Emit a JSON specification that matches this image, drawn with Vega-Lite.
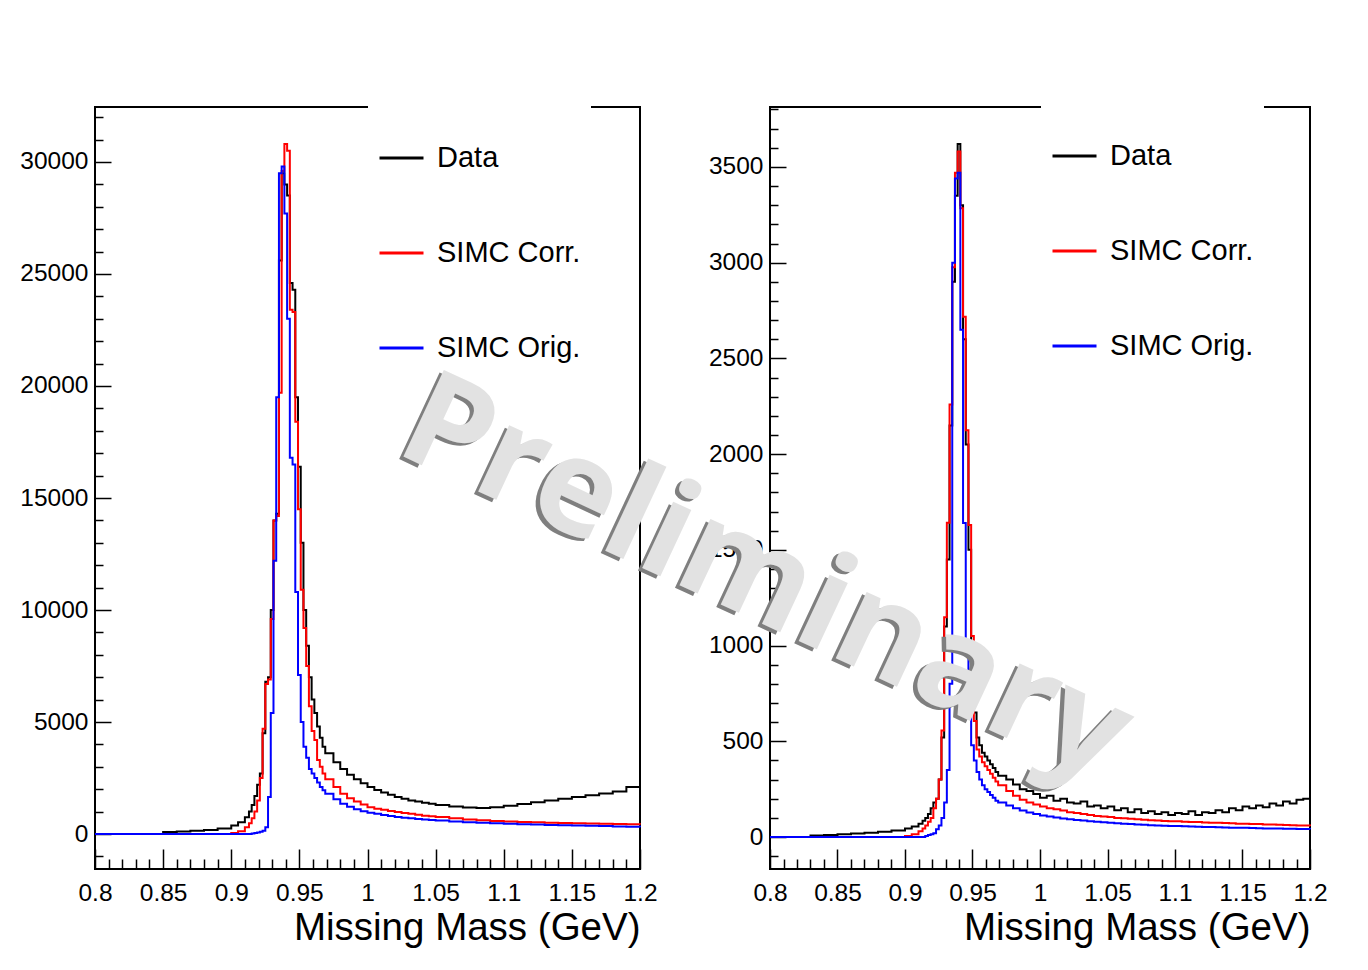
{
"$schema":"https://vega.github.io/schema/vega-lite/v6.json",
"background":"white",
"padding":{"left":18,"top":102,"right":10,"bottom":10},
"config":{
 "font":"Liberation Sans",
 "view":{"stroke":"black","strokeWidth":2},
 "axis":{"labelFont":"Liberation Sans","titleFont":"Liberation Sans","labelColor":"black","titleColor":"black","tickColor":"black","grid":false,"domain":false},
 "legend":{"labelFont":"Liberation Sans","titleFont":"Liberation Sans","labelColor":"black"}
},
"datasets":{
"left":[
{"x":0.8,"Data":0,"Corr":0,"Orig":0},
{"x":0.85,"Data":90,"Corr":0,"Orig":0},
{"x":0.86,"Data":110,"Corr":0,"Orig":0},
{"x":0.87,"Data":140,"Corr":0,"Orig":0},
{"x":0.88,"Data":180,"Corr":0,"Orig":0},
{"x":0.89,"Data":250,"Corr":0,"Orig":0},
{"x":0.9,"Data":380,"Corr":40,"Orig":0},
{"x":0.905,"Data":520,"Corr":120,"Orig":0},
{"x":0.91,"Data":750,"Corr":300,"Orig":0},
{"x":0.913,"Data":1000,"Corr":480,"Orig":0},
{"x":0.915,"Data":1300,"Corr":700,"Orig":20},
{"x":0.917,"Data":1700,"Corr":1000,"Orig":40},
{"x":0.919,"Data":2200,"Corr":1500,"Orig":70},
{"x":0.921,"Data":2700,"Corr":2500,"Orig":100},
{"x":0.923,"Data":4500,"Corr":4700,"Orig":150},
{"x":0.925,"Data":6800,"Corr":6700,"Orig":300},
{"x":0.927,"Data":7000,"Corr":6900,"Orig":1650},
{"x":0.929,"Data":10000,"Corr":9600,"Orig":5400},
{"x":0.931,"Data":14000,"Corr":14000,"Orig":12200},
{"x":0.933,"Data":14300,"Corr":14200,"Orig":19500},
{"x":0.935,"Data":25600,"Corr":19700,"Orig":29500},
{"x":0.937,"Data":29500,"Corr":29600,"Orig":29800},
{"x":0.939,"Data":29000,"Corr":30800,"Orig":27700},
{"x":0.941,"Data":28500,"Corr":30500,"Orig":23000},
{"x":0.943,"Data":24600,"Corr":23400,"Orig":16800},
{"x":0.945,"Data":24300,"Corr":23300,"Orig":16500},
{"x":0.947,"Data":19500,"Corr":18400,"Orig":10800},
{"x":0.949,"Data":16400,"Corr":14500,"Orig":7100},
{"x":0.951,"Data":13000,"Corr":10900,"Orig":5000},
{"x":0.953,"Data":10000,"Corr":9200,"Orig":3900},
{"x":0.955,"Data":8400,"Corr":7500,"Orig":3400},
{"x":0.957,"Data":7000,"Corr":5700,"Orig":2900},
{"x":0.959,"Data":6000,"Corr":4600,"Orig":2700},
{"x":0.961,"Data":5400,"Corr":4200,"Orig":2500},
{"x":0.963,"Data":4800,"Corr":3300,"Orig":2300},
{"x":0.965,"Data":4300,"Corr":3000,"Orig":2100},
{"x":0.967,"Data":3900,"Corr":2700,"Orig":1950},
{"x":0.969,"Data":3600,"Corr":2450,"Orig":1800},
{"x":0.975,"Data":3200,"Corr":2100,"Orig":1550},
{"x":0.98,"Data":2900,"Corr":1800,"Orig":1350},
{"x":0.985,"Data":2650,"Corr":1600,"Orig":1220},
{"x":0.99,"Data":2450,"Corr":1450,"Orig":1100},
{"x":0.995,"Data":2270,"Corr":1320,"Orig":1020},
{"x":1.0,"Data":2100,"Corr":1200,"Orig":950},
{"x":1.005,"Data":1970,"Corr":1130,"Orig":900},
{"x":1.01,"Data":1850,"Corr":1080,"Orig":850},
{"x":1.015,"Data":1750,"Corr":1030,"Orig":800},
{"x":1.02,"Data":1650,"Corr":980,"Orig":760},
{"x":1.025,"Data":1570,"Corr":940,"Orig":730},
{"x":1.03,"Data":1500,"Corr":900,"Orig":700},
{"x":1.035,"Data":1450,"Corr":860,"Orig":675},
{"x":1.04,"Data":1400,"Corr":820,"Orig":650},
{"x":1.045,"Data":1350,"Corr":790,"Orig":625},
{"x":1.05,"Data":1300,"Corr":760,"Orig":600},
{"x":1.06,"Data":1230,"Corr":700,"Orig":560},
{"x":1.07,"Data":1180,"Corr":650,"Orig":530},
{"x":1.08,"Data":1160,"Corr":610,"Orig":500},
{"x":1.09,"Data":1190,"Corr":580,"Orig":480},
{"x":1.1,"Data":1260,"Corr":560,"Orig":460},
{"x":1.11,"Data":1340,"Corr":540,"Orig":440},
{"x":1.12,"Data":1420,"Corr":520,"Orig":420},
{"x":1.13,"Data":1500,"Corr":500,"Orig":400},
{"x":1.14,"Data":1570,"Corr":490,"Orig":390},
{"x":1.15,"Data":1650,"Corr":480,"Orig":380},
{"x":1.16,"Data":1730,"Corr":470,"Orig":370},
{"x":1.17,"Data":1810,"Corr":460,"Orig":360},
{"x":1.18,"Data":1900,"Corr":450,"Orig":340},
{"x":1.19,"Data":2100,"Corr":440,"Orig":320},
{"x":1.2,"Data":2400,"Corr":430,"Orig":300}
],
"right":[
{"x":0.8,"Data":0,"Corr":0,"Orig":0},
{"x":0.83,"Data":8,"Corr":0,"Orig":0},
{"x":0.84,"Data":10,"Corr":0,"Orig":0},
{"x":0.85,"Data":14,"Corr":0,"Orig":0},
{"x":0.86,"Data":18,"Corr":0,"Orig":0},
{"x":0.87,"Data":22,"Corr":0,"Orig":0},
{"x":0.88,"Data":28,"Corr":0,"Orig":0},
{"x":0.89,"Data":34,"Corr":0,"Orig":0},
{"x":0.9,"Data":45,"Corr":5,"Orig":0},
{"x":0.905,"Data":55,"Corr":15,"Orig":0},
{"x":0.91,"Data":70,"Corr":30,"Orig":0},
{"x":0.913,"Data":85,"Corr":45,"Orig":0},
{"x":0.915,"Data":100,"Corr":60,"Orig":5},
{"x":0.917,"Data":120,"Corr":80,"Orig":10},
{"x":0.919,"Data":150,"Corr":100,"Orig":15},
{"x":0.921,"Data":180,"Corr":150,"Orig":20},
{"x":0.923,"Data":200,"Corr":200,"Orig":40},
{"x":0.925,"Data":300,"Corr":300,"Orig":60},
{"x":0.927,"Data":520,"Corr":556,"Orig":100},
{"x":0.929,"Data":1100,"Corr":1148,"Orig":180},
{"x":0.931,"Data":1450,"Corr":1642,"Orig":350},
{"x":0.933,"Data":2150,"Corr":2259,"Orig":800},
{"x":0.935,"Data":2900,"Corr":2976,"Orig":3000},
{"x":0.937,"Data":3350,"Corr":3469,"Orig":3440},
{"x":0.939,"Data":3620,"Corr":3580,"Orig":3470},
{"x":0.941,"Data":3300,"Corr":3284,"Orig":2650},
{"x":0.943,"Data":2600,"Corr":2717,"Orig":1640},
{"x":0.945,"Data":2050,"Corr":2124,"Orig":950},
{"x":0.947,"Data":1500,"Corr":1630,"Orig":630},
{"x":0.949,"Data":1000,"Corr":1050,"Orig":480},
{"x":0.951,"Data":650,"Corr":606,"Orig":400},
{"x":0.953,"Data":520,"Corr":457,"Orig":340},
{"x":0.955,"Data":480,"Corr":420,"Orig":300},
{"x":0.957,"Data":440,"Corr":390,"Orig":270},
{"x":0.959,"Data":420,"Corr":370,"Orig":250},
{"x":0.961,"Data":400,"Corr":350,"Orig":235},
{"x":0.963,"Data":380,"Corr":330,"Orig":220},
{"x":0.965,"Data":360,"Corr":310,"Orig":205},
{"x":0.967,"Data":340,"Corr":290,"Orig":190},
{"x":0.969,"Data":320,"Corr":270,"Orig":180},
{"x":0.975,"Data":300,"Corr":240,"Orig":165},
{"x":0.98,"Data":275,"Corr":215,"Orig":150},
{"x":0.985,"Data":250,"Corr":195,"Orig":138},
{"x":0.99,"Data":240,"Corr":180,"Orig":128},
{"x":0.995,"Data":225,"Corr":170,"Orig":120},
{"x":1.0,"Data":205,"Corr":160,"Orig":113},
{"x":1.005,"Data":215,"Corr":150,"Orig":107},
{"x":1.01,"Data":190,"Corr":145,"Orig":102},
{"x":1.015,"Data":200,"Corr":138,"Orig":97},
{"x":1.02,"Data":180,"Corr":130,"Orig":93},
{"x":1.025,"Data":175,"Corr":125,"Orig":89},
{"x":1.03,"Data":185,"Corr":120,"Orig":86},
{"x":1.035,"Data":160,"Corr":115,"Orig":83},
{"x":1.04,"Data":165,"Corr":110,"Orig":80},
{"x":1.045,"Data":150,"Corr":107,"Orig":77},
{"x":1.05,"Data":160,"Corr":104,"Orig":75},
{"x":1.055,"Data":140,"Corr":100,"Orig":72},
{"x":1.06,"Data":150,"Corr":98,"Orig":70},
{"x":1.065,"Data":130,"Corr":95,"Orig":68},
{"x":1.07,"Data":145,"Corr":93,"Orig":66},
{"x":1.075,"Data":125,"Corr":90,"Orig":64},
{"x":1.08,"Data":135,"Corr":88,"Orig":62},
{"x":1.085,"Data":120,"Corr":86,"Orig":60},
{"x":1.09,"Data":130,"Corr":84,"Orig":59},
{"x":1.095,"Data":115,"Corr":82,"Orig":58},
{"x":1.1,"Data":125,"Corr":82,"Orig":57},
{"x":1.105,"Data":120,"Corr":80,"Orig":56},
{"x":1.11,"Data":135,"Corr":78,"Orig":55},
{"x":1.115,"Data":115,"Corr":78,"Orig":54},
{"x":1.12,"Data":130,"Corr":76,"Orig":53},
{"x":1.125,"Data":125,"Corr":75,"Orig":52},
{"x":1.13,"Data":140,"Corr":74,"Orig":51},
{"x":1.135,"Data":130,"Corr":73,"Orig":50},
{"x":1.14,"Data":150,"Corr":72,"Orig":49},
{"x":1.145,"Data":140,"Corr":70,"Orig":48},
{"x":1.15,"Data":160,"Corr":70,"Orig":48},
{"x":1.155,"Data":150,"Corr":68,"Orig":47},
{"x":1.16,"Data":165,"Corr":68,"Orig":46},
{"x":1.165,"Data":155,"Corr":66,"Orig":45},
{"x":1.17,"Data":175,"Corr":65,"Orig":45},
{"x":1.175,"Data":165,"Corr":64,"Orig":44},
{"x":1.18,"Data":185,"Corr":63,"Orig":43},
{"x":1.185,"Data":175,"Corr":62,"Orig":43},
{"x":1.19,"Data":195,"Corr":60,"Orig":42},
{"x":1.195,"Data":200,"Corr":60,"Orig":42},
{"x":1.2,"Data":215,"Corr":58,"Orig":41}
]
},
"spacing":130,
"bounds":"flush",
"resolve":{"scale":{"color":"independent"},"legend":{"color":"independent"}},
"hconcat":[
{
 "width":545,"height":762,
 "data":{"name":"left"},
 "transform":[{"fold":["Data","Corr","Orig"],"as":["series","value"]}],
 "resolve":{"axis":{"x":"independent","y":"independent"}},
 "layer":[
  {
   "mark":{"type":"line","interpolate":"step-after","strokeWidth":2},
   "encoding":{
    "x":{"field":"x","type":"quantitative","scale":{"domain":[0.8,1.2],"nice":false,"zero":false},
     "axis":{"orient":"bottom","values":[0.8,0.85,0.9,0.95,1,1.05,1.1,1.15,1.2],"format":"~g","labelFlush":false,"labelOverlap":false,"ticks":false,"domain":false,"labelFontSize":24.5,"labelPadding":12,"title":"Missing Mass (GeV)","titleAnchor":"end","titleFontSize":38.5,"titleFontWeight":"normal","titlePadding":5}},
    "y":{"field":"value","type":"quantitative","scale":{"domain":[-1562,32455],"nice":false,"zero":false},
     "axis":{"orient":"left","values":[0,5000,10000,15000,20000,25000,30000],"format":"d","labelFlush":false,"labelOverlap":false,"ticks":false,"domain":false,"labelFontSize":24.5,"labelPadding":7,"title":null}},
    "color":{"field":"series","type":"nominal","scale":{"domain":["Data","Corr","Orig"],"range":["#000000","#ff0000","#0000ff"]},
     "legend":{"orient":"none","legendX":273,"legendY":-4,"title":"\u00a0\u00a0\u00a0\u00a0\u00a0\u00a0\u00a0\u00a0\u00a0\u00a0\u00a0\u00a0\u00a0\u00a0\u00a0\u00a0\u00a0\u00a0\u00a0\u00a0\u00a0\u00a0\u00a0\u00a0\u00a0\u00a0\u00a0\u00a0\u00a0\u00a0\u00a0\u00a0\u00a0\u00a0\u00a0\u00a0\u00a0\u00a0\u00a0\u00a0\u00a0\u00a0\u00a0\u00a0\u00a0\u00a0\u00a0\u00a0\u00a0\u00a0\u00a0\u00a0\u00a0\u00a0\u00a0","titleLimit":600,"titleFontSize":16,"titlePadding":5.5,"padding":10,"fillColor":"white","symbolType":"stroke","symbolSize":1936,"symbolStrokeWidth":3,"labelFontSize":29,"labelOffset":12,"rowPadding":56,"labelLimit":400,"labelExpr":"datum.label == 'Data' ? 'Data' : (datum.label == 'Corr' ? 'SIMC Corr.' : 'SIMC Orig.')"}}
   }
  },
  {
   "mark":{"type":"point","opacity":0},
   "encoding":{
    "x":{"field":"x","type":"quantitative","scale":{"domain":[0.8,1.2],"nice":false,"zero":false},
     "axis":{"orient":"bottom","values":[0.8,0.85,0.9,0.95,1,1.05,1.1,1.15,1.2],"labels":false,"domain":false,"ticks":true,"tickSize":-20,"tickWidth":1.5,"title":null}},
    "y":{"field":"value","type":"quantitative","scale":{"domain":[-1562,32455],"nice":false,"zero":false},
     "axis":{"orient":"left","values":[0,5000,10000,15000,20000,25000,30000],"labels":false,"domain":false,"ticks":true,"tickSize":-16,"tickWidth":1.5,"title":null}}
   }
  },
  {
   "mark":{"type":"point","opacity":0},
   "encoding":{
    "x":{"field":"x","type":"quantitative","scale":{"domain":[0.8,1.2],"nice":false,"zero":false},
     "axis":{"orient":"bottom","values":[0.81,0.82,0.83,0.84,0.86,0.87,0.88,0.89,0.91,0.92,0.93,0.94,0.96,0.97,0.98,0.99,1.01,1.02,1.03,1.04,1.06,1.07,1.08,1.09,1.11,1.12,1.13,1.14,1.16,1.17,1.18,1.19],"labels":false,"domain":false,"ticks":true,"tickSize":-10,"tickWidth":1.5,"title":null}},
    "y":{"field":"value","type":"quantitative","scale":{"domain":[-1562,32455],"nice":false,"zero":false},
     "axis":{"orient":"left","values":[-1000,1000,2000,3000,4000,6000,7000,8000,9000,11000,12000,13000,14000,16000,17000,18000,19000,21000,22000,23000,24000,26000,27000,28000,29000,31000,32000],"labels":false,"domain":false,"ticks":true,"tickSize":-8,"tickWidth":1.5,"title":null}}
   }
  }
 ]
},
{
 "width":540,"height":762,
 "data":{"name":"right"},
 "transform":[{"fold":["Data","Corr","Orig"],"as":["series","value"]}],
 "resolve":{"axis":{"x":"independent","y":"independent"}},
 "layer":[
  {
   "mark":{"type":"line","interpolate":"step-after","strokeWidth":2},
   "encoding":{
    "x":{"field":"x","type":"quantitative","scale":{"domain":[0.8,1.2],"nice":false,"zero":false},
     "axis":{"orient":"bottom","values":[0.8,0.85,0.9,0.95,1,1.05,1.1,1.15,1.2],"format":"~g","labelFlush":false,"labelOverlap":false,"ticks":false,"domain":false,"labelFontSize":24.5,"labelPadding":12,"title":"Missing Mass (GeV)","titleAnchor":"end","titleFontSize":38.5,"titleFontWeight":"normal","titlePadding":5}},
    "y":{"field":"value","type":"quantitative","scale":{"domain":[-167,3813],"nice":false,"zero":false},
     "axis":{"orient":"left","values":[0,500,1000,1500,2000,2500,3000,3500],"format":"d","labelFlush":false,"labelOverlap":false,"ticks":false,"domain":false,"labelFontSize":24.5,"labelPadding":7,"title":null}},
    "color":{"field":"series","type":"nominal","scale":{"domain":["Data","Corr","Orig"],"range":["#000000","#ff0000","#0000ff"]},
     "legend":{"orient":"none","legendX":271,"legendY":-4,"title":"\u00a0\u00a0\u00a0\u00a0\u00a0\u00a0\u00a0\u00a0\u00a0\u00a0\u00a0\u00a0\u00a0\u00a0\u00a0\u00a0\u00a0\u00a0\u00a0\u00a0\u00a0\u00a0\u00a0\u00a0\u00a0\u00a0\u00a0\u00a0\u00a0\u00a0\u00a0\u00a0\u00a0\u00a0\u00a0\u00a0\u00a0\u00a0\u00a0\u00a0\u00a0\u00a0\u00a0\u00a0\u00a0\u00a0\u00a0\u00a0\u00a0\u00a0\u00a0\u00a0\u00a0\u00a0","titleLimit":600,"titleFontSize":16,"titlePadding":3.5,"padding":10,"fillColor":"white","symbolType":"stroke","symbolSize":1936,"symbolStrokeWidth":3,"labelFontSize":29,"labelOffset":12,"rowPadding":56,"labelLimit":400,"labelExpr":"datum.label == 'Data' ? 'Data' : (datum.label == 'Corr' ? 'SIMC Corr.' : 'SIMC Orig.')"}}
   }
  },
  {
   "mark":{"type":"point","opacity":0},
   "encoding":{
    "x":{"field":"x","type":"quantitative","scale":{"domain":[0.8,1.2],"nice":false,"zero":false},
     "axis":{"orient":"bottom","values":[0.8,0.85,0.9,0.95,1,1.05,1.1,1.15,1.2],"labels":false,"domain":false,"ticks":true,"tickSize":-20,"tickWidth":1.5,"title":null}},
    "y":{"field":"value","type":"quantitative","scale":{"domain":[-167,3813],"nice":false,"zero":false},
     "axis":{"orient":"left","values":[0,500,1000,1500,2000,2500,3000,3500],"labels":false,"domain":false,"ticks":true,"tickSize":-16,"tickWidth":1.5,"title":null}}
   }
  },
  {
   "mark":{"type":"point","opacity":0},
   "encoding":{
    "x":{"field":"x","type":"quantitative","scale":{"domain":[0.8,1.2],"nice":false,"zero":false},
     "axis":{"orient":"bottom","values":[0.81,0.82,0.83,0.84,0.86,0.87,0.88,0.89,0.91,0.92,0.93,0.94,0.96,0.97,0.98,0.99,1.01,1.02,1.03,1.04,1.06,1.07,1.08,1.09,1.11,1.12,1.13,1.14,1.16,1.17,1.18,1.19],"labels":false,"domain":false,"ticks":true,"tickSize":-10,"tickWidth":1.5,"title":null}},
    "y":{"field":"value","type":"quantitative","scale":{"domain":[-167,3813],"nice":false,"zero":false},
     "axis":{"orient":"left","values":[-100,100,200,300,400,600,700,800,900,1100,1200,1300,1400,1600,1700,1800,1900,2100,2200,2300,2400,2600,2700,2800,2900,3100,3200,3300,3400,3600,3700,3800],"labels":false,"domain":false,"ticks":true,"tickSize":-8,"tickWidth":1.5,"title":null}}
   }
  },
  {
   "data":{"values":[{"t":"Preliminary"}]},
   "mark":{"type":"text","angle":25,"font":"Open Sans","fontSize":134,"fontWeight":700,"align":"center","baseline":"middle","color":"#7f7f7f","dx":-3,"dy":4},
   "encoding":{
    "x":{"datum":0.7963,"type":"quantitative","scale":{"domain":[0.8,1.2],"nice":false,"zero":false},"axis":null},
    "y":{"datum":1337,"type":"quantitative","scale":{"domain":[-167,3813],"nice":false,"zero":false},"axis":null},
    "text":{"field":"t"}
   }
  },
  {
   "data":{"values":[{"t":"Preliminary"}]},
   "mark":{"type":"text","angle":25,"font":"Open Sans","fontSize":134,"fontWeight":700,"align":"center","baseline":"middle","color":"#e2e2e2"},
   "encoding":{
    "x":{"datum":0.7963,"type":"quantitative","scale":{"domain":[0.8,1.2],"nice":false,"zero":false},"axis":null},
    "y":{"datum":1337,"type":"quantitative","scale":{"domain":[-167,3813],"nice":false,"zero":false},"axis":null},
    "text":{"field":"t"}
   }
  }
 ]
}
]
}
